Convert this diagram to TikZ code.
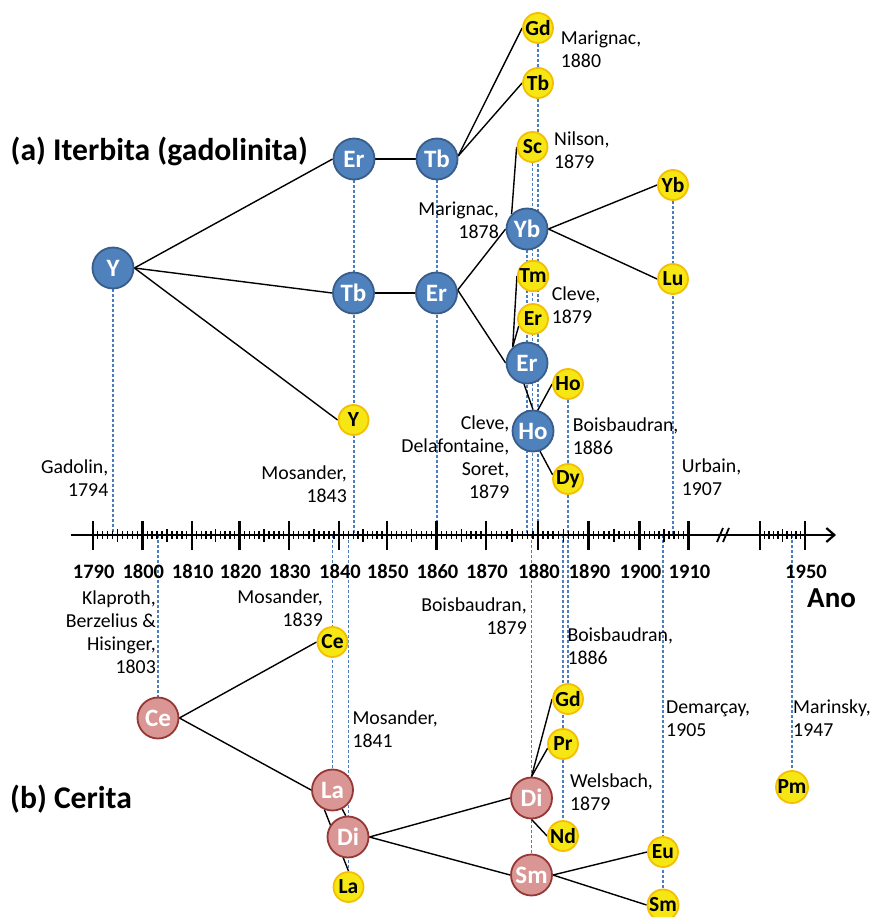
\documentclass[tikz,border=0pt]{standalone}
\usepackage{fontspec}
\setmainfont{Carlito}
\usetikzlibrary{arrows.meta}
\definecolor{bfill}{RGB}{79,129,189}
\definecolor{bdraw}{RGB}{56,93,138}
\definecolor{pfill}{RGB}{217,150,148}
\definecolor{pdraw}{RGB}{149,55,53}
\definecolor{yfill}{RGB}{246,230,20}
\definecolor{ydraw}{RGB}{245,190,0}
\definecolor{dline}{RGB}{74,126,193}
\pgfdeclarelayer{bg}
\pgfsetlayers{bg,main}
\tikzset{
  bnode/.style={circle, minimum size=41pt, inner sep=0pt, fill=bfill, draw=bdraw, line width=1.8pt, text=white, font=\bfseries\fontsize{25}{25}\selectfont},
  pnode/.style={circle, minimum size=41pt, inner sep=0pt, fill=pfill, draw=pdraw, line width=1.8pt, text=white, font=\bfseries\fontsize{25}{25}\selectfont},
  ynode/.style={circle, minimum size=30pt, inner sep=0pt, fill=yfill, draw=ydraw, line width=1.8pt, text=black, font=\bfseries\fontsize{21.5}{21.5}\selectfont},
  conn/.style={line width=1.4pt, black},
  dsh/.style={dline, line width=1.1pt, dash pattern=on 3pt off 2pt},
  lbl/.style={inner sep=0pt, font=\fontsize{19.8}{23}\selectfont},
  lblL/.style={lbl, anchor=north west, align=left},
  lblR/.style={lbl, anchor=north east, align=right},
  yrlbl/.style={inner sep=0pt, anchor=base, font=\bfseries\fontsize{20.5}{20.5}\selectfont},
  ttl/.style={inner sep=0pt, anchor=base west, font=\bfseries\fontsize{31.6}{31.6}\selectfont},
  majtick/.style={line width=2.4pt},
  mintick/.style={line width=1.4pt}
}
\begin{document}
\begin{tikzpicture}[x=1pt,y=-1pt]
\useasboundingbox (0,0) rectangle (870,917);

% ---------- axis ----------
\draw[line width=2.5pt, -{Straight Barb[length=8pt,width=14pt,line width=2.2pt]}] (71,535) -- (836,535);
\foreach \a/\b in {92.7/142.3, 142.3/191.7, 191.7/239.5, 239.5/288.7, 288.7/339, 339/386.7, 386.7/436.5, 436.5/486, 486/538, 538/588.5, 588.5/639.5, 639.5/688.5, 760/805}{
  \draw[majtick] (\a,521) -- (\a,550);
  \foreach \k in {1,...,9}{
    \pgfmathsetmacro\xx{\a+\k*(\b-\a)/10}
    \ifnum\k=5
      \draw[mintick] (\xx,529) -- (\xx,542);
    \else
      \draw[mintick] (\xx,531) -- (\xx,539);
    \fi
  }
}
\draw[majtick] (688.5,521) -- (688.5,550);
\draw[majtick] (805,521) -- (805,550);
\draw[line width=1.8pt] (717,542) -- (723,528) (723,542) -- (729,528);

\foreach \x/\t in {92.7/1790, 142.3/1800, 191.7/1810, 239.5/1820, 288.7/1830, 339/1840, 386.7/1850, 436.5/1860, 486/1870, 538/1880, 588.5/1890, 639.5/1900, 688.5/1910, 805/1950}{
  \node[yrlbl] (yr\t) at (\x+1,578) {\t};
}
\node[inner sep=0pt, anchor=base west, font=\bfseries\fontsize{29}{29}\selectfont] (ano) at (807,607) {Ano};

% ---------- titles ----------
\node[ttl] (ta) at (10.5,161) {(a) Iterbita (gadolinita)};
\node[ttl] (tb) at (10,808) {(b) Cerita};

% ---------- top nodes ----------
\node[bnode] (Y) at (113,268) {Y};
\node[bnode] (Er1) at (354,159) {Er};
\node[bnode] (Tb1) at (353.5,293) {Tb};
\node[bnode] (Tb2) at (437,159) {Tb};
\node[bnode] (Er2) at (436.5,293) {Er};
\node[bnode] (Yb) at (527,229) {Yb};
\node[bnode] (Er3) at (527,363) {Er};
\node[bnode] (Ho) at (533,431) {Ho};
\node[ynode] (Yy) at (353.5,420) {Y};
\node[ynode] (Gd1) at (538,28) {Gd};
\node[ynode] (Tby) at (538,83) {Tb};
\node[ynode] (Sc) at (532.5,147) {Sc};
\node[ynode] (Yby) at (673,185) {Yb};
\node[ynode] (Lu) at (673,279) {Lu};
\node[ynode] (Tm) at (533,276) {Tm};
\node[ynode] (Ery) at (533,319) {Er};
\node[ynode] (Hoy) at (568,384) {Ho};
\node[ynode] (Dy) at (568,479) {Dy};

% ---------- bottom nodes ----------
\node[pnode] (Ce) at (158,718) {Ce};
\node[pnode] (La) at (332.5,790) {La};
\node[pnode] (Di1) at (348,837) {Di};
\node[pnode] (Di2) at (531.5,798) {Di};
\node[pnode] (Sm) at (531.5,875) {Sm};
\node[ynode] (Cey) at (332.5,642) {Ce};
\node[ynode] (Lay) at (348.5,887) {La};
\node[ynode] (Gd2) at (568,699) {Gd};
\node[ynode] (Pr) at (563,744) {Pr};
\node[ynode] (Nd) at (563,836) {Nd};
\node[ynode] (Eu) at (663,852) {Eu};
\node[ynode] (Smy) at (663,905) {Sm};
\node[ynode] (Pm) at (792,787) {Pm};

% ---------- axis coordinates for dashed lines ----------
\coordinate (a1794) at (113,535);
\coordinate (a1843) at (354,535);
\coordinate (a1860) at (437,535);
\coordinate (a1878) at (527,535);
\coordinate (a1879t) at (532.5,535);
\coordinate (a1880) at (538,535);
\coordinate (a1907) at (673,535);
\coordinate (a1803) at (158,535);
\coordinate (a1839) at (332.5,535);
\coordinate (a1841) at (348.5,535);
\coordinate (a1879b) at (531.5,535);
\coordinate (a1885) at (563,535);
\coordinate (a1905) at (663,535);
\coordinate (a1947) at (792,535);

\begin{pgfonlayer}{bg}
  % dashed year lines
  \draw[dsh] (Y) -- (a1794);
  \draw[dsh] (Er1) -- (a1843);
  \draw[dsh] (Tb2) -- (a1860);
  \draw[dsh] (Yb) -- (a1878);
  \draw[dsh] (Sc) -- (a1879t);
  \draw[dsh] (Gd1) -- (a1880);
  \draw[dsh] (Hoy) -- (Gd2);
  \draw[dsh] (Yby) -- (a1907);
  \draw[dsh] (a1803) -- (Ce);
  \draw[dsh] (a1839) -- (La);
  \draw[dsh] (a1841) -- (Lay);
  \draw[dsh] (a1879b) -- (Sm);
  \draw[dsh] (a1885) -- (Nd);
  \draw[dsh] (a1905) -- (Smy);
  \draw[dsh] (a1947) -- (Pm);
  % connectors top
  \draw[conn] (Y.east) -- (Er1.west);
  \draw[conn] (Y.east) -- (Tb1.west);
  \draw[conn] (Y.east) -- (Yy.west);
  \draw[conn] (Er1) -- (Tb2);
  \draw[conn] (Tb1) -- (Er2);
  \draw[conn] (Tb2.8) -- (Gd1.west);
  \draw[conn] (Tb2.8) -- (Tby.west);
  \draw[conn] (Er2.8) -- (Yb.west);
  \draw[conn] (Er2.8) -- (Er3.west);
  \draw[conn] (Sc.west) -- (Yb.136);
  \draw[conn] (Yb.east) -- (Yby.west);
  \draw[conn] (Yb.east) -- (Lu.west);
  \draw[conn] (Tm.west) -- (Er3.132);
  \draw[conn] (Ery.206) -- (Er3.132);
  \draw[conn] (Er3.262) -- (Ho.north);
  \draw[conn] (Ho.77) -- (Hoy.west);
  \draw[conn] (Ho.289) -- (Dy.165);
  % connectors bottom
  \draw[conn] (Ce.east) -- (Cey.west);
  \draw[conn] (Ce.east) -- (La.west);
  \draw[conn] (La.248) -- (Lay.north);
  \draw[conn] (La.297) -- (Di1.96);
  \draw[conn] (Di1.east) -- (Di2.west);
  \draw[conn] (Di1.east) -- (Sm.west);
  \draw[conn] (Di2.north) -- (Gd2.west);
  \draw[conn] (Di2.north) -- (Pr.195);
  \draw[conn] (Di2.south) -- (Nd.west);
  \draw[conn] (Sm.east) -- (Eu.west);
  \draw[conn] (Sm.east) -- (Smy.west);
\end{pgfonlayer}

% ---------- labels ----------
\node[lblL] (l1) at (560.7,28) {\strut Marignac,\\1880};
\node[lblL] (l2) at (554,129) {\strut Nilson,\\1879};
\node[lblR] (l3) at (499,199) {\strut Marignac,\\1878};
\node[lblL] (l4) at (551.7,284) {\strut Cleve,\\1879};
\node[lblR] (l5) at (509.5,413) {\strut Cleve,\\Delafontaine,\\Soret,\\1879};
\node[lblL] (l6) at (572.7,415) {\strut Boisbaudran,\\1886};
\node[lblL] (l7) at (681.7,456) {\strut Urbain,\\1907};
\node[lblR] (l8) at (108.5,457) {\strut Gadolin,\\1794};
\node[lblR] (l9) at (347,463) {\strut Mosander,\\1843};
\node[lblR] (l10) at (156,588) {\strut Klaproth,\\Berzelius \&\\Hisinger,\\1803};
\node[lblR] (l11) at (323,587) {\strut Mosander,\\1839};
\node[lblL] (l12) at (352.3,708) {\strut Mosander,\\1841};
\node[lblR] (l13) at (527,595) {\strut Boisbaudran,\\1879};
\node[lblL] (l14) at (567.3,625) {\strut Boisbaudran,\\1886};
\node[lblL] (l15) at (666,697) {\strut Demarçay,\\1905};
\node[lblL] (l16) at (793,697) {\strut Marinsky,\\1947};
\node[lblL] (l17) at (570,771) {\strut Welsbach,\\1879};
\end{tikzpicture}
\end{document}
